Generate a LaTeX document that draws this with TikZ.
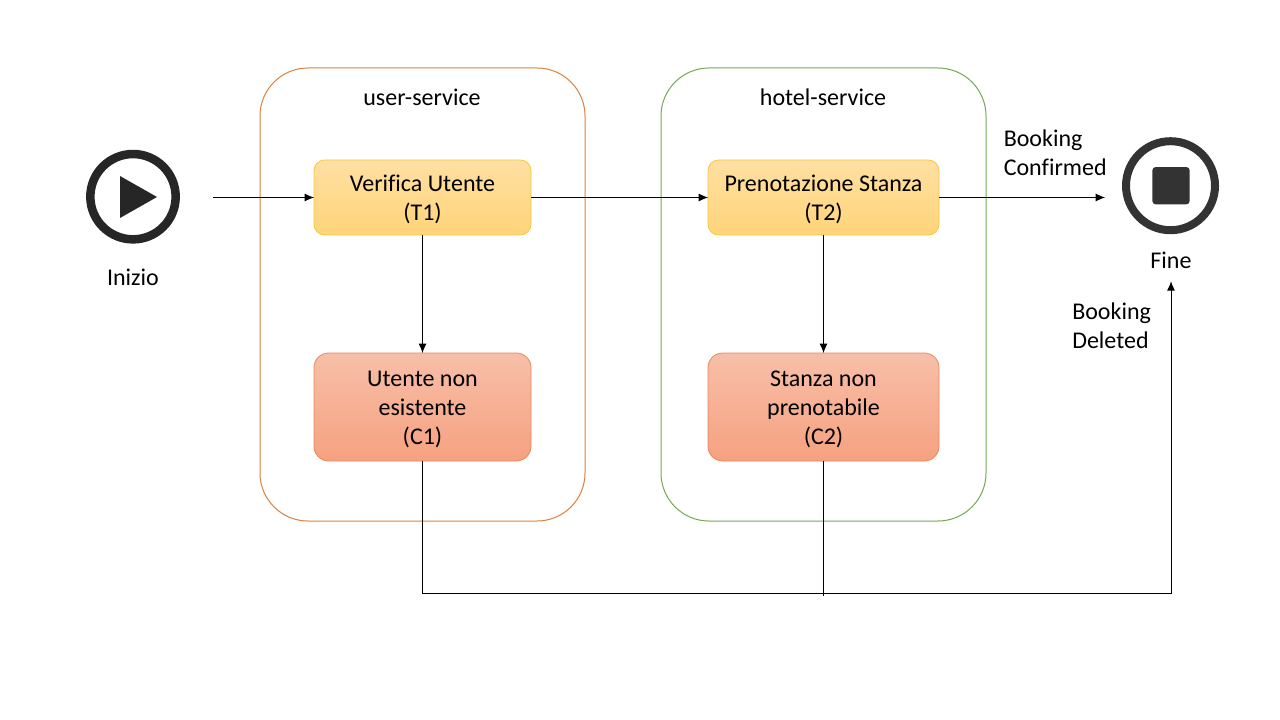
\documentclass[tikz,border=0pt]{standalone}
\usepackage{xcolor}
\usepackage{fontspec}
\setmainfont[Ligatures=NoCommon]{Carlito}
\usetikzlibrary{arrows.meta,positioning,calc}
\definecolor{ink}{HTML}{000000}
\definecolor{iconplay}{HTML}{262626}
\definecolor{iconstop}{HTML}{333333}
\definecolor{useredge}{HTML}{DD8040}
\definecolor{hoteledge}{HTML}{74A856}
\definecolor{taskedge}{HTML}{F5C73D}
\definecolor{tasktop}{HTML}{FFE0A3}
\definecolor{taskbot}{HTML}{FFD479}
\definecolor{compedge}{HTML}{E8895A}
\definecolor{comptop}{HTML}{F7BFA8}
\definecolor{compbot}{HTML}{F6A180}
\newcommand{\toppad}{\rule{0pt}{15pt}}

\tikzset{
  label/.style={text=ink, font=\fontsize{18}{21.75}\selectfont, align=center, inner sep=0pt},
  group/.style={draw=#1, line width=0.75pt, rounded corners=36pt, fill=none,
        minimum width=243.75pt, minimum height=339.75pt, outer sep=0pt},
  taskbox/.style={label, draw=taskedge, line width=0.6pt, rounded corners=8pt,
        top color=tasktop, bottom color=taskbot, minimum height=56.25pt, outer sep=0pt},
  compbox/.style={label, draw=compedge, line width=0.6pt, rounded corners=11pt,
        top color=comptop, bottom color=compbot, minimum height=81pt, outer sep=0pt},
  link/.style={draw=ink, line width=0.7pt, -{Latex[length=7pt,width=6pt]}},
  plainlink/.style={draw=ink, line width=0.7pt}
}

\begin{document}
\begin{tikzpicture}[x=0.75pt, y=-0.75pt]
  \useasboundingbox (0,0) rectangle (1280,720);

  \node[group=useredge] (usergroup) at (422.5,294.5) {};
  \node[group=hoteledge] (hotelgroup) at (823.5,294.5) {};
  \node[label] (userlabel) at (422,97.5) {user-service};
  \node[label] (hotellabel) at (823,97.5) {hotel-service};

  \node[taskbox, minimum width=162.75pt] (t1) at (422.5,197.5) {\toppad Verifica Utente\\(T1)};
  \node[taskbox, minimum width=173.25pt] (t2) at (823.5,197.5) {\toppad Prenotazione Stanza\\(T2)};
  \node[compbox, minimum width=162.75pt] (c1) at (422.5,407) {\toppad Utente non\\esistente\\(C1)};
  \node[compbox, minimum width=173.25pt] (c2) at (823.5,407) {\toppad Stanza non\\prenotabile\\(C2)};

  \node[circle, draw=iconplay, line width=6.4pt, minimum size=64pt, inner sep=0pt] (start) at (133,196.7) {};
  \fill[iconplay] (120,176) -- (157,197) -- (120,218) -- cycle;
  \node[label] (startlabel) at (133,277) {Inizio};

  \node[circle, draw=iconstop, line width=6pt, minimum size=66.75pt, inner sep=0pt] (stop) at (1170.5,185.7) {};
  \node[fill=iconstop, rounded corners=2.5pt, minimum size=28pt, inner sep=0pt] (stopmark) at (1171,185.7) {};
  \node[label, minimum height=31.5pt] (stoplabel) at (1171,260) {Fine};

  \node[label, align=left, anchor=west] (confirmed) at (1003.5,152.5) {Booking\\Confirmed};
  \node[label, align=left, anchor=west] (deleted) at (1072,326) {Booking\\Deleted};

  \coordinate (startout) at (213,197.5);
  \coordinate (stopin) at (1105,197.5);
  \coordinate (busright) at (1171,593);
  \coordinate (busdrop) at (823.5,596);

  \draw[link] (startout) -- (t1.west);
  \draw[link] (t1.east) -- (t2.west);
  \draw[link] (t2.east) -- (stopin);
  \draw[link] (t1.south) -- (c1.north);
  \draw[link] (t2.south) -- (c2.north);
  \draw[link] (c1.south) |- (busright) -- (stoplabel.south);
  \draw[plainlink] (c2.south) -- (busdrop);
\end{tikzpicture}
\end{document}
